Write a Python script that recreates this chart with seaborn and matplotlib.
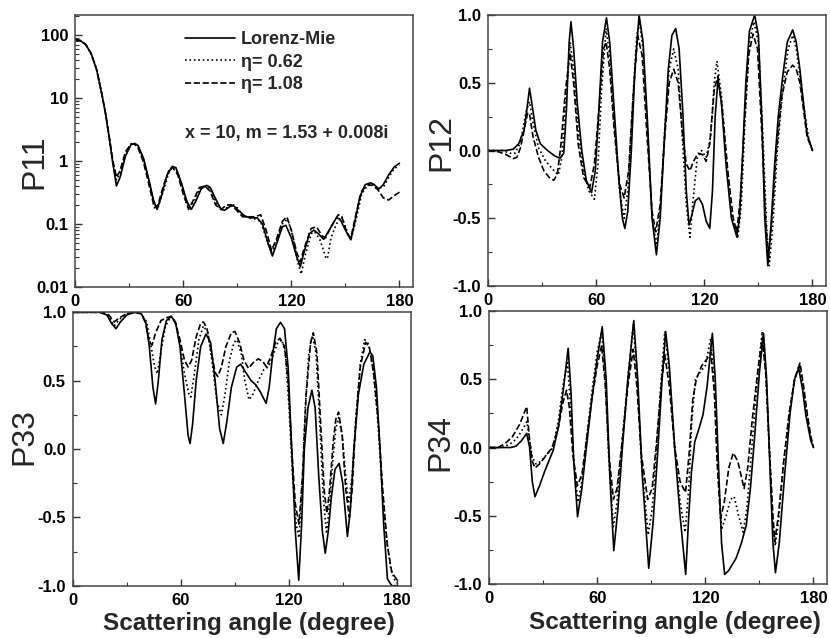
import matplotlib
matplotlib.use("Agg")
import matplotlib.pyplot as plt
import matplotlib.ticker as mticker
import seaborn as sns
import pandas as pd

sns.set_style("ticks")
plt.rcParams['font.family'] = ['Liberation Sans', 'DejaVu Sans']
plt.rcParams['axes.unicode_minus'] = False

# (scattering angle in degree, value)
p11_mie = [(0, 85), (3, 81), (6, 70), (9, 50), (12, 28), (15, 11), (17, 5.5), (19, 2.3),
           (21, 0.9), (23, 0.40), (25, 0.55), (28, 1.2), (31, 1.8), (33, 1.9), (35, 1.75),
           (38, 1.1), (41, 0.5), (43.5, 0.24), (45.5, 0.17), (48, 0.28), (51, 0.6), (54, 0.82),
           (56, 0.78), (59, 0.45), (62, 0.23), (64.5, 0.17), (67, 0.23), (70, 0.36), (73, 0.41),
           (75, 0.38), (78, 0.25), (81, 0.17), (83, 0.165), (86, 0.19), (88, 0.195), (91, 0.16),
           (94, 0.135), (97, 0.125), (101, 0.125), (104, 0.1), (107, 0.05), (109.5, 0.031),
           (112, 0.05), (115, 0.09), (117, 0.095), (120, 0.06), (123, 0.03), (125, 0.021),
           (127, 0.035), (130, 0.07), (132.5, 0.08), (135, 0.07), (138, 0.057), (141, 0.08),
           (145, 0.125), (147, 0.12), (150, 0.08), (153, 0.056), (155, 0.1), (158, 0.27),
           (161, 0.42), (164, 0.45), (166, 0.42), (168.5, 0.36), (171, 0.42), (174, 0.6),
           (177, 0.8), (180, 0.92)]
p11_eta062 = [(0, 85), (3, 81), (6, 70), (9, 50), (12, 28), (15, 11), (17, 5.5), (19, 2.3),
              (21, 0.95), (23, 0.5), (25, 0.65), (28, 1.3), (31, 1.85), (33, 1.9), (35, 1.7),
              (38, 1.05), (41, 0.48), (44, 0.2), (46, 0.18), (49, 0.33), (52, 0.65), (54, 0.8),
              (57, 0.65), (60, 0.35), (63, 0.18), (66, 0.22), (69, 0.35), (72, 0.4), (75, 0.36),
              (78, 0.22), (81, 0.17), (84, 0.18), (87, 0.21), (90, 0.18), (93, 0.14), (96, 0.125),
              (100, 0.12), (103, 0.11), (106, 0.06), (109, 0.035), (112, 0.055), (115, 0.1),
              (118, 0.12), (121, 0.06), (123.5, 0.025), (125.5, 0.016), (127.5, 0.03), (131, 0.07),
              (133, 0.075), (136, 0.055), (139, 0.03), (140, 0.028), (142, 0.06), (145, 0.1),
              (148, 0.13), (150, 0.09), (153, 0.055), (156, 0.12), (159, 0.3), (162, 0.4),
              (165, 0.43), (168, 0.37), (171, 0.38), (174, 0.55), (177, 0.75), (180, 0.85)]
p11_eta108 = [(0, 85), (3, 81), (6, 70), (9, 50), (12, 28), (15, 11), (17, 5.5), (19, 2.4),
              (21, 1.0), (23, 0.55), (25, 0.7), (28, 1.4), (31, 1.85), (33, 1.85), (35, 1.6),
              (38, 0.95), (41, 0.42), (44, 0.18), (46, 0.2), (49, 0.4), (52, 0.7), (54, 0.8),
              (57, 0.6), (60, 0.3), (63, 0.17), (66, 0.25), (69, 0.38), (72, 0.4), (75, 0.33),
              (78, 0.2), (81, 0.17), (84, 0.2), (87, 0.2), (90, 0.16), (93, 0.13), (96, 0.13),
              (100, 0.13), (103, 0.14), (106, 0.08), (109, 0.038), (112, 0.06), (115, 0.11),
              (117.5, 0.13), (120, 0.08), (123, 0.035), (125, 0.025), (127, 0.04), (131, 0.085),
              (134, 0.09), (137, 0.065), (139, 0.06), (142, 0.09), (146, 0.14), (148, 0.13),
              (151, 0.07), (153, 0.06), (156, 0.15), (159, 0.33), (162, 0.42), (165, 0.41),
              (168, 0.35), (171, 0.26), (174, 0.24), (177, 0.28), (180, 0.32)]

p12_mie = [(0, 0), (10, 0), (14, 0.01), (17, 0.05), (20, 0.15), (22, 0.35), (23, 0.46),
           (24.5, 0.33), (26.5, 0.15), (29, 0.05), (33, 0.0), (37, -0.04), (40, -0.058),
           (42, -0.02), (43.5, 0.3), (45, 0.8), (46, 0.95), (47.5, 0.75), (49.5, 0.35), (52, 0.0),
           (54.5, -0.22), (57.4, -0.31), (59.5, -0.15), (61.5, 0.3), (63.5, 0.8), (65.7, 0.98),
           (67.5, 0.8), (70, 0.3), (72.5, -0.2), (74.5, -0.5), (75.9, -0.575), (77.5, -0.45),
           (79.5, 0.0), (81.5, 0.6), (83.8, 1.0), (86, 0.8), (88.5, 0.2), (91, -0.5),
           (93.4, -0.77), (95.5, -0.5), (97.5, 0.0), (100, 0.6), (102, 0.85), (104.1, 0.9),
           (106, 0.75), (108, 0.3), (110, -0.3), (111.5, -0.55), (113, -0.48), (115, -0.37),
           (117, -0.35), (119, -0.4), (121, -0.52), (123, -0.575), (124.5, -0.3), (126, 0.25),
           (127.6, 0.53), (129.5, 0.35), (132, -0.1), (135, -0.5), (138, -0.636), (139.5, -0.5),
           (141, -0.1), (143, 0.5), (145, 0.88), (147.9, 1.0), (150, 0.85), (152, 0.2),
           (153.5, -0.5), (155.2, -0.85), (157, -0.55), (159, -0.1), (161, 0.25), (163.5, 0.55),
           (166, 0.8), (169, 0.89), (171, 0.8), (173, 0.6), (175, 0.35), (177, 0.12), (180, 0.0)]
p12_eta062 = [(0, 0), (8, 0.0), (12, -0.02), (15, -0.02), (18, 0.06), (21, 0.28), (23, 0.36),
              (25, 0.2), (28, 0.02), (32, -0.08), (36, -0.14), (39, -0.18), (41, -0.05),
              (43, 0.35), (45.5, 0.8), (47.5, 0.6), (50, 0.15), (53, -0.15), (56, -0.3),
              (59, -0.36), (61, -0.1), (63, 0.45), (65.5, 0.9), (67.5, 0.7), (70, 0.2), (73, -0.3),
              (75.5, -0.5), (77.5, -0.3), (80, 0.3), (82.5, 0.85), (84, 0.95), (86, 0.75),
              (88.5, 0.15), (91, -0.5), (93.5, -0.7), (95.5, -0.45), (98, 0.15), (100.5, 0.6),
              (103, 0.75), (105.5, 0.6), (108, 0.05), (110, -0.4), (112, -0.64), (113.5, -0.4),
              (116, -0.06), (118.5, 0.0), (121, -0.05), (123.5, 0.1), (125.5, 0.5), (127, 0.66),
              (129.5, 0.4), (132.5, -0.1), (135.5, -0.5), (138.5, -0.65), (140.5, -0.4),
              (142.5, 0.2), (145, 0.8), (147.5, 0.95), (150, 0.8), (152.5, 0.1), (154.5, -0.55),
              (156, -0.85), (158, -0.55), (160.5, 0.0), (163.5, 0.45), (166.5, 0.75), (169, 0.85),
              (171, 0.75), (173.5, 0.5), (176, 0.25), (178, 0.08), (180, 0.0)]
p12_eta108 = [(0, 0), (6, -0.01), (10, -0.03), (14, -0.06), (16, -0.05), (18, 0.02), (20, 0.15),
              (22, 0.28), (23, 0.27), (25, 0.1), (28, -0.05), (31, -0.15), (34, -0.2),
              (36.5, -0.22), (38.5, -0.17), (40.5, 0.05), (43, 0.45), (45.5, 0.72), (47.5, 0.5),
              (50, 0.05), (53, -0.2), (56.5, -0.27), (59, -0.1), (61.5, 0.3), (64, 0.75),
              (65.5, 0.8), (67.5, 0.6), (70, 0.15), (73, -0.25), (75.5, -0.35), (78, -0.15),
              (80.5, 0.4), (83, 0.85), (85.5, 0.7), (88, 0.15), (91, -0.45), (93, -0.6),
              (95.5, -0.4), (98, 0.1), (100.5, 0.5), (103, 0.6), (105.5, 0.5), (108, 0.1),
              (110, -0.1), (112, -0.15), (114, -0.08), (116.5, -0.02), (119, -0.03), (121, -0.08),
              (123, 0.05), (125.5, 0.45), (127.5, 0.55), (130, 0.3), (133, -0.15), (136, -0.5),
              (138, -0.6), (140, -0.35), (142, 0.15), (144.5, 0.7), (147, 0.86), (149.5, 0.75),
              (152, 0.1), (154, -0.5), (155.5, -0.8), (157.5, -0.5), (160, 0.0), (163, 0.4),
              (166, 0.58), (169, 0.63), (171, 0.6), (173, 0.5), (175, 0.3), (177, 0.1), (180, 0.0)]

p33_mie = [(0, 1.0), (15, 1.0), (19, 0.98), (21.5, 0.92), (24, 0.88), (26.5, 0.93), (30, 0.98),
           (34, 1.0), (38, 0.99), (40.5, 0.93), (42.5, 0.75), (44.5, 0.45), (46, 0.33),
           (47.5, 0.5), (49.5, 0.8), (52, 0.94), (54.6, 0.97), (57, 0.93), (59.5, 0.75), (62, 0.4),
           (64, 0.1), (65.1, 0.04), (66.5, 0.18), (68.5, 0.5), (71, 0.75), (73.9, 0.84),
           (76.5, 0.78), (79, 0.5), (81.5, 0.15), (83.5, 0.04), (85.5, 0.2), (88, 0.45), (91, 0.6),
           (93.2, 0.62), (96, 0.56), (99, 0.5), (101.5, 0.47), (104, 0.42), (107.3, 0.334),
           (109, 0.45), (111, 0.7), (113, 0.88), (115.3, 0.927), (117.5, 0.88), (119.5, 0.6),
           (121.5, 0.0), (123.5, -0.6), (125.4, -0.96), (127, -0.55), (128.5, 0.0), (130.5, 0.3),
           (132.7, 0.43), (134.5, 0.3), (136.5, -0.2), (138.5, -0.6), (140.1, -0.763),
           (141.8, -0.6), (143.5, -0.35), (145.5, -0.15), (147.8, -0.105), (149.8, -0.25),
           (152.4, -0.64), (154, -0.45), (156, 0.0), (158.5, 0.4), (161.5, 0.62), (164.9, 0.71),
           (166.5, 0.68), (168.5, 0.45), (170.5, 0.0), (172.5, -0.55), (174.6, -0.95),
           (177, -1.0), (180, -1.0)]
p33_eta062 = [(0, 1.0), (17, 1.0), (20, 0.97), (23, 0.9), (26, 0.95), (30, 0.99), (35, 1.0),
              (38, 0.99), (41, 0.93), (43.5, 0.75), (45.5, 0.6), (47, 0.55), (49, 0.72),
              (51.5, 0.9), (54.5, 0.97), (57, 0.93), (59.5, 0.77), (62, 0.55), (64.5, 0.4),
              (65.5, 0.38), (67.5, 0.55), (70, 0.8), (72.5, 0.9), (75, 0.85), (77.5, 0.62),
              (80, 0.35), (82.5, 0.25), (84.5, 0.4), (87, 0.65), (89.5, 0.78), (91, 0.8),
              (93.5, 0.7), (95.5, 0.5), (97.8, 0.36), (100, 0.4), (103, 0.5), (106, 0.58),
              (108.5, 0.6), (111, 0.68), (113.5, 0.77), (116, 0.8), (118, 0.7), (120, 0.3),
              (122, -0.2), (124, -0.55), (125.5, -0.65), (127, -0.35), (129, 0.3), (131, 0.7),
              (133, 0.83), (135, 0.7), (137, 0.2), (139, -0.35), (140.8, -0.62), (142.5, -0.4),
              (144.5, -0.05), (146, 0.15), (147.5, 0.23), (149.5, 0.1), (151.5, -0.2), (153, -0.4),
              (155, -0.2), (157, 0.2), (159.5, 0.62), (162, 0.8), (164, 0.77), (166.5, 0.6),
              (169, 0.25), (171.5, -0.25), (174, -0.65), (176.5, -0.88), (179, -0.97), (180, -0.98)]
p33_eta108 = [(0, 1.0), (17, 1.0), (20, 0.98), (23, 0.93), (26, 0.96), (30, 0.99), (35, 1.0),
              (38, 0.99), (40.5, 0.92), (42.5, 0.78), (44, 0.76), (46, 0.85), (49, 0.94),
              (52, 0.96), (54.5, 0.97), (57, 0.92), (59.5, 0.8), (62, 0.65), (64, 0.6), (66, 0.65),
              (68.5, 0.82), (71, 0.92), (72.5, 0.93), (74.5, 0.88), (77, 0.7), (79, 0.56),
              (80.5, 0.53), (82.5, 0.6), (85, 0.75), (88, 0.85), (90, 0.86), (92.5, 0.78),
              (95, 0.65), (97.5, 0.59), (100, 0.63), (103, 0.66), (105.5, 0.64), (107.5, 0.6),
              (110, 0.68), (112.5, 0.78), (115, 0.81), (117.5, 0.75), (119.5, 0.5), (121.5, 0.0),
              (123.5, -0.4), (125.5, -0.55), (127.5, -0.2), (129.5, 0.4), (132, 0.78),
              (133.5, 0.85), (135.5, 0.7), (137.5, 0.2), (139.5, -0.3), (141, -0.47),
              (142.5, -0.3), (144.5, 0.05), (146, 0.22), (147.5, 0.27), (149.5, 0.1),
              (151.5, -0.3), (153.5, -0.5), (155, -0.3), (157, 0.2), (159.5, 0.6), (162.5, 0.78),
              (164.5, 0.75), (167, 0.55), (169.5, 0.2), (172, -0.3), (174.5, -0.7), (177, -0.9),
              (180, -0.96)]

p34_mie = [(0, 0), (12, 0.0), (15, 0.01), (18, 0.05), (20.9, 0.104), (22.5, 0.0), (24, -0.25),
           (25.5, -0.36), (28, -0.28), (31, -0.17), (35.6, -0.02), (38.5, 0.15), (41, 0.4),
           (43.9, 0.727), (45.5, 0.4), (47, -0.1), (49.1, -0.507), (51.5, -0.3), (54, 0.0),
           (57, 0.35), (60, 0.65), (62.8, 0.885), (65, 0.5), (67, -0.2), (69.2, -0.756),
           (71.5, -0.45), (74, 0.0), (77, 0.5), (80.3, 0.93), (82.5, 0.5), (85, -0.2),
           (88.6, -0.885), (91, -0.55), (93.5, -0.05), (96, 0.5), (98, 0.85), (100, 0.6),
           (103, 0.0), (106, -0.5), (109.1, -0.93), (110.8, -0.5), (112.3, -0.18), (114.1, 0.04),
           (116.5, 0.14), (118.7, 0.24), (121, 0.45), (123.9, 0.837), (125.5, 0.5), (127.5, -0.2),
           (129, -0.7), (130.7, -0.93), (133, -0.9), (137.1, -0.81), (140, -0.7), (142.7, -0.57),
           (145, -0.3), (147.3, 0.07), (150, 0.55), (152.3, 0.837), (154, 0.5), (156, -0.2),
           (157.5, -0.7), (158.9, -0.917), (161, -0.7), (164, -0.2), (167, 0.25), (169.5, 0.5),
           (171.8, 0.58), (174, 0.42), (175.7, 0.24), (178.5, 0.05), (180, 0.0)]
p34_eta062 = [(0, 0), (7, 0.0), (11, 0.02), (15, 0.06), (18, 0.12), (21, 0.19), (22.5, 0.05),
              (24, -0.07), (26, -0.12), (29, -0.1), (32, -0.05), (35.5, 0.0), (38.5, 0.2),
              (41, 0.45), (43.5, 0.62), (45, 0.35), (47, -0.1), (49.3, -0.4), (51.5, -0.25),
              (54, 0.05), (57, 0.4), (60, 0.7), (62.5, 0.85), (64.5, 0.5), (66.5, -0.1),
              (69, -0.58), (71, -0.4), (73.5, 0.0), (77, 0.5), (80, 0.9), (82, 0.55), (84.5, -0.1),
              (88.3, -0.64), (90.5, -0.45), (93, 0.0), (95.5, 0.5), (97.5, 0.85), (100, 0.55),
              (103, 0.0), (106, -0.4), (108.8, -0.62), (110.8, -0.3), (112.5, 0.2), (114.5, 0.5),
              (117, 0.55), (120, 0.6), (123, 0.8), (125, 0.45), (127, -0.2), (129, -0.6),
              (131.5, -0.5), (134, -0.38), (136, -0.36), (138.5, -0.5), (141, -0.62),
              (143, -0.45), (145.5, -0.05), (148.5, 0.45), (151.5, 0.85), (153.5, 0.55),
              (155.5, 0.0), (157.5, -0.55), (158.8, -0.72), (160.5, -0.55), (163.5, -0.1),
              (166.5, 0.25), (169.5, 0.5), (172, 0.6), (174, 0.47), (176, 0.27), (178.5, 0.07),
              (180, 0.0)]
p34_eta108 = [(0, 0), (5, 0.0), (9, 0.03), (13, 0.08), (17, 0.17), (20.9, 0.3), (22.5, 0.05),
              (24, -0.1), (25.5, -0.15), (28, -0.12), (31, -0.07), (35, 0.0), (38.5, 0.15),
              (41, 0.33), (43, 0.42), (44.5, 0.3), (46.5, -0.05), (49, -0.28), (51.5, -0.2),
              (54, 0.05), (57, 0.35), (60, 0.6), (62.5, 0.75), (64.5, 0.45), (66.5, -0.05),
              (69, -0.38), (71, -0.3), (73.5, 0.0), (77, 0.45), (80, 0.72), (82, 0.45),
              (84.5, -0.05), (88, -0.38), (90.5, -0.3), (93, 0.05), (95.5, 0.45), (97.5, 0.68),
              (100, 0.45), (103, 0.0), (106, -0.25), (109, -0.33), (111, -0.05), (113, 0.35),
              (115, 0.5), (118, 0.6), (121, 0.65), (123, 0.7), (125, 0.4), (126.5, -0.1),
              (128.5, -0.52), (130.5, -0.4), (133, -0.15), (135.5, -0.04), (138, -0.1),
              (141.5, -0.3), (143.5, -0.15), (146, 0.2), (149, 0.55), (151.5, 0.8), (153.5, 0.55),
              (155.5, 0.0), (157.5, -0.5), (158.5, -0.69), (160.5, -0.5), (163.5, -0.1),
              (166.5, 0.25), (169.5, 0.5), (172.5, 0.62), (174.5, 0.45), (176.5, 0.25),
              (178.5, 0.08), (180, 0.0)]

series_names = ["Lorenz-Mie", "\u03b7= 0.62", "\u03b7= 1.08"]
series_styles = ["-", ":", "--"]
x_ticks = [0, 60, 120, 180]
x_tick_labels = ["0", "60", "120", "180"]
log_ticks = [0.01, 0.1, 1, 10, 100]
log_tick_labels = ["0.01", "0.1", "1", "10", "100"]
lin_ticks = [-1.0, -0.5, 0.0, 0.5, 1.0]
lin_tick_labels = ["-1.0", "-0.5", "0.0", "0.5", "1.0"]
note_text = "x = 10, m = 1.53 + 0.008i"
x_title = "Scattering angle (degree)"

fig = plt.figure(figsize=(8.3, 6.38), dpi=100)
ax1 = fig.add_axes([0.0904, 0.5502, 0.4072, 0.4263])
ax2 = fig.add_axes([0.5880, 0.5517, 0.4072, 0.4248])
ax3 = fig.add_axes([0.0876, 0.0820, 0.4072, 0.4285])
ax4 = fig.add_axes([0.5892, 0.0846, 0.4072, 0.4279])

# axes, curves, y label, label x / y position in axes fraction
panels = [
    (ax1, [p11_mie, p11_eta062, p11_eta108], "P11", -0.077, 0.46),
    (ax2, [p12_mie, p12_eta062, p12_eta108], "P12", -0.095, 0.53),
    (ax3, [p33_mie, p33_eta062, p33_eta108], "P33", -0.10, 0.545),
    (ax4, [p34_mie, p34_eta062, p34_eta108], "P34", -0.10, 0.52),
]

for ax, curves, name, lab_x, lab_y in panels:
    for data, label, ls in zip(curves, series_names, series_styles):
        df = pd.DataFrame(data, columns=["angle", "value"])
        sns.lineplot(data=df, x="angle", y="value", ax=ax, color="black",
                     linestyle=ls, linewidth=1.2, label=label, legend=False)
    ax.set_xlim(0, 187.5)
    ax.set_xticks(x_ticks, x_tick_labels)
    ax.xaxis.set_minor_locator(mticker.MultipleLocator(30))
    if ax is ax1:
        ax.set_yscale("log")
        ax.set_ylim(0.01, 207)
        ax.set_yticks(log_ticks, log_tick_labels)
        ax.yaxis.set_minor_locator(mticker.LogLocator(base=10, subs=range(2, 10)))
        ax.yaxis.set_minor_formatter(mticker.NullFormatter())
    else:
        ax.set_ylim(-1, 1)
        ax.set_yticks(lin_ticks, lin_tick_labels)
        ax.yaxis.set_minor_locator(mticker.MultipleLocator(0.25))
    ax.tick_params(which="major", direction="in", length=5, width=1, pad=5,
                   labelsize=12, colors="#333333", labelcolor="black")
    ax.tick_params(which="minor", direction="in", length=3, width=0.8, colors="#333333")
    for lbl in ax.get_xticklabels() + ax.get_yticklabels():
        lbl.set_fontweight("bold")
    for sp in ax.spines.values():
        sp.set_color("#444444")
        sp.set_linewidth(1.1)
    ax.set_ylabel(name, fontsize=23)
    ax.yaxis.set_label_coords(lab_x, lab_y)
    ax.set_xlabel("")

ax3.set_xlabel(x_title, fontsize=17.5, fontweight="bold")
ax3.xaxis.set_label_coords(0.52, -0.097)
ax4.set_xlabel(x_title, fontsize=17.5, fontweight="bold")
ax4.xaxis.set_label_coords(0.55, -0.097)

handles = ax1.get_lines()[:3]
ax1.legend(handles, series_names, loc="upper left", bbox_to_anchor=(0.325, 0.94),
           frameon=False, prop={"weight": "bold", "size": 13}, handlelength=2.8,
           handletextpad=0.3, labelspacing=0.3, borderpad=0, borderaxespad=0)
ax1.text(0.325, 0.565, note_text, transform=ax1.transAxes, ha="left", va="center",
         fontsize=13, fontweight="bold")

fig.savefig("out.png", dpi=100)
